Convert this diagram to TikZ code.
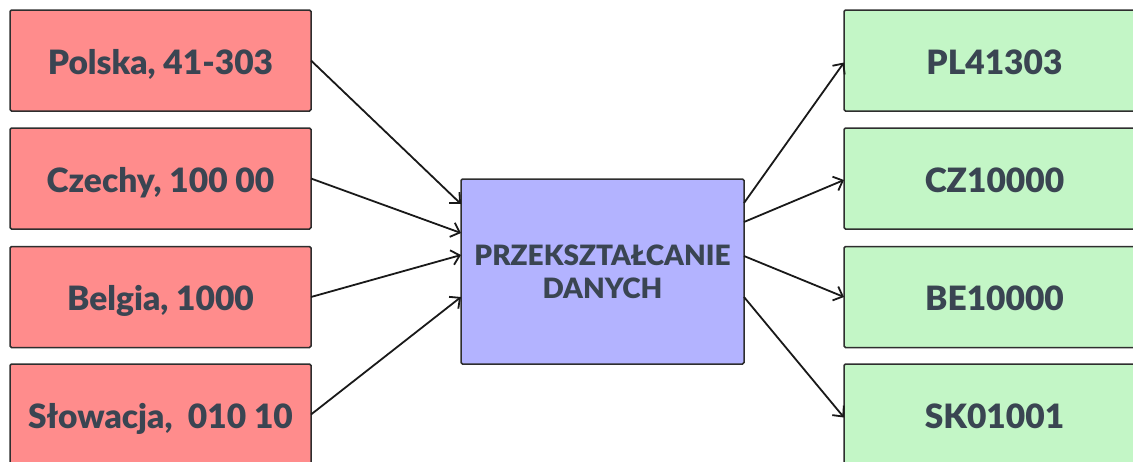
\documentclass[tikz,border=0pt]{standalone}
\usepackage{fontspec}
\setmainfont{Lato}[BoldFont={Lato Black}]
\usetikzlibrary{arrows.meta}
\definecolor{srcfill}{HTML}{FF8C8C}
\definecolor{midfill}{HTML}{B3B3FF}
\definecolor{dstfill}{HTML}{C3F6C6}
\definecolor{boxline}{HTML}{2E2E2E}
\definecolor{txt}{HTML}{3A4552}
\tikzset{
  box/.style={draw=boxline, line width=1.5pt, rounded corners=1.5pt,
    minimum width=301pt, minimum height=101pt, inner sep=0pt, outer sep=0pt,
    text height=27pt, text depth=0pt,
    text=txt, font=\fontsize{33.5}{38}\selectfont\bfseries},
  src/.style={box, fill=srcfill},
  dst/.style={box, fill=dstfill},
  proc/.style={box, fill=midfill, minimum width=283pt, minimum height=185pt,
    text height=, text depth=,
    align=center, font=\fontsize{28}{33}\selectfont\bfseries},
  link/.style={draw=black!90, line width=1.8pt,
    -{Straight Barb[length=8pt,width=15pt,line width=1.8pt]}}
}
\begin{document}
\begin{tikzpicture}[x=1pt,y=-1pt]
\useasboundingbox (0,0) rectangle (1133,461);
\clip (0,0) rectangle (1133,461);
% input records
\node[src] (s1) at (160.5,60.5) {Polska, 41-303};
\node[src] (s2) at (160.5,178.5) {Czechy, 100 00};
\node[src] (s3) at (160.5,297) {Belgia, 1000};
\node[src] (s4) at (160.5,414.5) {Słowacja,\ \ 010 10};
% transformation step
\node[proc] (m) at (602.5,271.5) {PRZEKSZTAŁCANIE\\DANYCH};
% output records
\node[dst] (d1) at (994.5,60.5) {PL41303};
\node[dst] (d2) at (994.5,178.5) {CZ10000};
\node[dst] (d3) at (994.5,297) {BE10000};
\node[dst] (d4) at (994.5,414.5) {SK01001};
% connectors into the transformation
\draw[link] (s1.east) -- ([yshift=67.5pt]m.west);
\draw[link] (s2.east) -- ([yshift=38.5pt]m.west);
\draw[link] (s3.east) -- ([yshift=16.5pt]m.west);
\draw[link] (s4.east) -- ([yshift=-25.5pt]m.west);
% connectors out of the transformation
\draw[link] ([yshift=68.5pt]m.east) -- ([yshift=-2pt]d1.west);
\draw[link] ([yshift=49.5pt]m.east) -- ([yshift=-1.5pt]d2.west);
\draw[link] ([yshift=15.5pt]m.east) -- (d3.west);
\draw[link] ([yshift=-25.5pt]m.east) -- ([yshift=-3pt]d4.west);
\end{tikzpicture}
\end{document}
